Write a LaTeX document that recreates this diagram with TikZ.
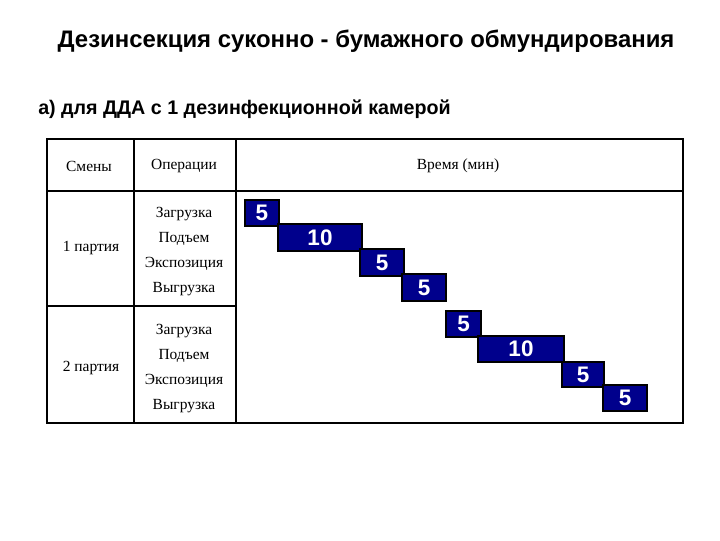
\documentclass[tikz,border=0pt]{standalone}
\usepackage{fontspec}
\setmainfont{Liberation Serif}
\setsansfont{Liberation Sans}
\usepackage{xcolor}
\usetikzlibrary{positioning}
\definecolor{barblue}{RGB}{0,0,140}

\begin{document}
\begin{tikzpicture}[x=0.025cm, y=-0.025cm,
  bar/.style={draw=black, line width=1.3pt, fill=barblue},
  barnum/.style={text=white, font=\sffamily\bfseries\fontsize{16}{16}\selectfont, inner sep=0pt},
  cell/.style={font=\fontsize{11}{13}\selectfont, inner sep=0pt}]
\useasboundingbox (0,0) rectangle (720,540);

% Headings
\node[font=\sffamily\bfseries\fontsize{17}{20}\selectfont] (title) at (366,41) {Дезинсекция суконно - бумажного обмундирования};
\node[font=\sffamily\bfseries\fontsize{14}{17}\selectfont, anchor=west, inner sep=0pt] (sub) at (38,109) {а) для ДДА с 1 дезинфекционной камерой};

% Table frame
\draw[line width=0.9pt] (47,139) rectangle (683,423);
\draw[line width=0.9pt] (47,191) -- (683,191);
\draw[line width=0.9pt] (134,139) -- (134,423);
\draw[line width=0.9pt] (236,139) -- (236,423);
\draw[line width=0.9pt] (47,306) -- (236,306);

% Header row
\node[cell] (hsm) at (89,166) {Смены};
\node[cell] (hop) at (184,166) {Операции};
\node[cell] (htm) at (458,166) {Время (мин)};

% First batch
\node[cell] (p1) at (91,248) {1 партия};
\node[cell] (o11) at (184,214) {Загрузка};
\node[cell] (o12) at (184,239) {Подъем};
\node[cell] (o13) at (184,264) {Экспозиция};
\node[cell] (o14) at (184,289) {Выгрузка};

% Second batch
\node[cell] (p2) at (91,368) {2 партия};
\node[cell] (o21) at (184,331) {Загрузка};
\node[cell] (o22) at (184,356) {Подъем};
\node[cell] (o23) at (184,381) {Экспозиция};
\node[cell] (o24) at (184,406) {Выгрузка};

% Time bars, batch 1
\draw[bar] (245,200) rectangle (279,226);
\node[barnum] (a1) at (262,213) {5};
\draw[bar] (278,224) rectangle (362,251);
\node[barnum] (a2) at (320,237.5) {10};
\draw[bar] (360,249) rectangle (404,276);
\node[barnum] (a3) at (382,262.5) {5};
\draw[bar] (402,274) rectangle (446,301);
\node[barnum] (a4) at (424,287.5) {5};

% Time bars, batch 2
\draw[bar] (446,311) rectangle (481,337);
\node[barnum] (b1) at (463.5,324) {5};
\draw[bar] (478,336) rectangle (564,362);
\node[barnum] (b2) at (521,349) {10};
\draw[bar] (562,362) rectangle (604,387);
\node[barnum] (b3) at (583,374.5) {5};
\draw[bar] (603,385) rectangle (647,411);
\node[barnum] (b4) at (625,398) {5};

\end{tikzpicture}
\end{document}
